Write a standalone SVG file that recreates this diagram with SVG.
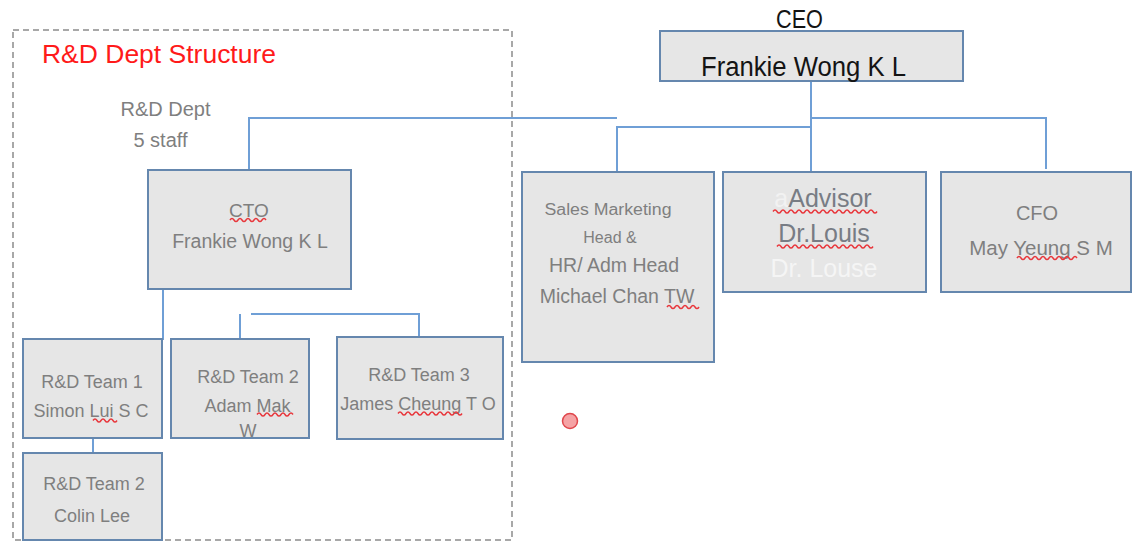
<svg xmlns="http://www.w3.org/2000/svg" width="1133" height="544" viewBox="0 0 1133 544">
<style>
.box{fill:#e6e6e6;stroke:#6587ae;stroke-width:2}
.con{fill:none;stroke:#6f9fd6;stroke-width:2}
.t{font-family:"Liberation Sans",Arial,sans-serif;fill:#7f7f7f;text-anchor:middle}
.k{font-family:"Liberation Sans",Arial,sans-serif;fill:#141414;text-anchor:middle}
.sq{fill:none;stroke:#e8383d;stroke-width:1.5}
</style>
<rect width="1133" height="544" fill="#ffffff"/>
<rect id="dept-frame" x="13" y="30" width="499" height="510" fill="none" stroke="#8c8c8c" stroke-width="1.5" stroke-dasharray="6,4"/>
<text x="42" y="63" textLength="234" lengthAdjust="spacingAndGlyphs" style="font-family:'Liberation Sans',Arial,sans-serif;font-size:26px;fill:#ff1a1a">R&amp;D Dept Structure</text>
<g id="dept-label">
<text class="t" x="165.5" y="115.5" font-size="20">R&amp;D Dept</text>
<text class="t" x="160.5" y="146.5" font-size="20">5 staff</text>
</g>
<g id="connectors">
<path class="con" d="M249,170 V118 H617"/>
<path class="con" d="M617,172 V127 H811"/>
<path class="con" d="M811,81 V171"/>
<path class="con" d="M811,118 H1046 V169"/>
<path class="con" d="M163,290 V339 H84"/>
<path class="con" d="M240,339 V314"/>
<path class="con" d="M251,314 H419 V337"/>
<path class="con" d="M93,439 V453"/>
</g>
<g id="ceo">
<text class="k" x="799.5" y="27.5" font-size="25" textLength="47" lengthAdjust="spacingAndGlyphs">CEO</text>
<rect class="box" x="660" y="31" width="303" height="50"/>
<text class="k" x="803.5" y="76" font-size="27" textLength="205" lengthAdjust="spacingAndGlyphs">Frankie Wong K L</text>
</g>
<g id="cto">
<rect class="box" x="148" y="170" width="203" height="119"/>
<text class="t" x="249" y="216.5" font-size="19">CTO</text>
<text class="t" x="250" y="248" font-size="19.5">Frankie Wong K L</text>
<path class="sq" d="M230,220 q2,-3 4,0 t4,0 t4,0 t4,0 t4,0 t4,0 t4,0 t4,0 t4,0"/>
</g>
<g id="team1">
<rect class="box" x="23" y="339" width="139" height="99"/>
<text class="t" x="92" y="387.5" font-size="18">R&amp;D Team 1</text>
<text class="t" x="91" y="416.5" font-size="18">Simon Lui S C</text>
<path class="sq" d="M93,420.5 q2,-3 4,0 t4,0 t4,0 t4,0 t4,0 t4,0"/>
</g>
<g id="team2">
<rect class="box" x="171" y="339" width="138" height="99"/>
<text class="t" x="248" y="382.5" font-size="18">R&amp;D Team 2</text>
<text class="t" x="247.5" y="411.5" font-size="18">Adam Mak</text>
<text class="t" x="248" y="436.5" font-size="18">W</text>
<path class="sq" d="M257,414.5 q2,-3 4,0 t4,0 t4,0 t4,0 t4,0 t4,0 t4,0 t4,0 t4,0"/>
</g>
<g id="team3">
<rect class="box" x="337" y="337" width="166" height="102"/>
<text class="t" x="419" y="380.5" font-size="18">R&amp;D Team 3</text>
<text class="t" x="418" y="410" font-size="18">James Cheung T O</text>
<path class="sq" d="M398,413.5 q2,-3 4,0 t4,0 t4,0 t4,0 t4,0 t4,0 t4,0 t4,0 t4,0 t4,0 t4,0 t4,0 t4,0 t4,0 t4,0 t4,0"/>
</g>
<g id="team2b">
<rect class="box" x="23" y="453" width="139" height="87"/>
<text class="t" x="94" y="490" font-size="18">R&amp;D Team 2</text>
<text class="t" x="92" y="521.5" font-size="18">Colin Lee</text>
</g>
<g id="sales">
<rect class="box" x="522" y="172" width="192" height="190"/>
<text class="t" x="608" y="215" font-size="16" textLength="127" lengthAdjust="spacingAndGlyphs">Sales Marketing</text>
<text class="t" x="610" y="243" font-size="16">Head &amp;</text>
<text class="t" x="614" y="272" font-size="19.5">HR/ Adm Head</text>
<text class="t" x="617" y="303" font-size="19.5">Michael Chan TW</text>
<path class="sq" d="M667,307 q2,-3 4,0 t4,0 t4,0 t4,0 t4,0 t4,0 t4,0 t4,0"/>
</g>
<g id="advisor">
<rect class="box" x="723" y="172" width="203" height="120"/>
<text class="t" x="823" y="207" font-size="25" style="fill:#787c84"><tspan style="fill:#f2f2f2">a</tspan>Advisor</text>
<text class="t" x="824" y="242" font-size="25" style="fill:#787c84">Dr.Louis</text>
<text class="t" x="824" y="277" font-size="25" style="fill:#f5f5f5">Dr. Louse</text>
<path class="sq" d="M773,211.5 q2,-3 4,0 t4,0 t4,0 t4,0 t4,0 t4,0 t4,0 t4,0 t4,0 t4,0 t4,0 t4,0 t4,0 t4,0 t4,0 t4,0 t4,0 t4,0 t4,0 t4,0 t4,0 t4,0 t4,0 t4,0 t4,0 t4,0"/>
<path class="sq" d="M777,246.5 q2,-3 4,0 t4,0 t4,0 t4,0 t4,0 t4,0 t4,0 t4,0 t4,0 t4,0 t4,0 t4,0 t4,0 t4,0 t4,0 t4,0 t4,0 t4,0 t4,0 t4,0 t4,0 t4,0 t4,0 t4,0"/>
</g>
<g id="cfo">
<rect class="box" x="941" y="172" width="190" height="120"/>
<text class="t" x="1037" y="220" font-size="20">CFO</text>
<text class="t" x="1041" y="255" font-size="20.5">May Yeung S M</text>
<path class="sq" d="M1017,258 q2,-3 4,0 t4,0 t4,0 t4,0 t4,0 t4,0 t4,0 t4,0 t4,0 t4,0 t4,0 t4,0 t4,0 t4,0 t4,0"/>
</g>
<circle id="marker-dot" cx="570" cy="421" r="7.5" fill="#f5a3a5" stroke="#e0474c" stroke-width="1.5"/>
</svg>
